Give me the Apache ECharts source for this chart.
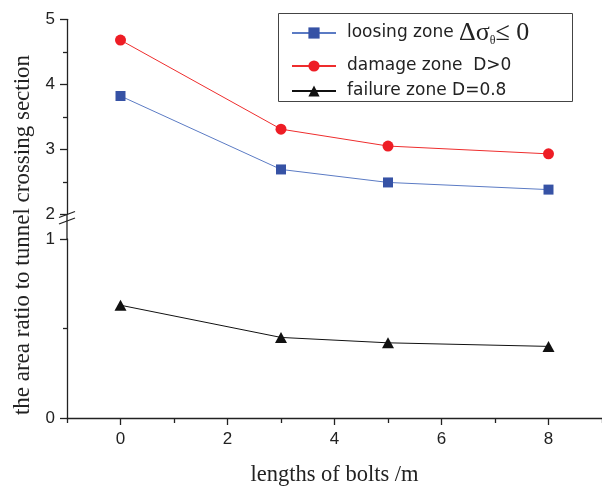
<!DOCTYPE html>
<html>
<head>
<meta charset="utf-8">
<script src="https://cdn.jsdelivr.net/npm/echarts@6/dist/echarts.min.js"></script>
<style>
  html, body { margin: 0; padding: 0; background: #fff; }
  #main { width: 602px; height: 488px; }
</style>
</head>
<body>
<div id="main"></div>
<script>
// data
var lengths = [0, 3, 5, 8];
var loosing = [3.82, 2.69, 2.49, 2.38];
var damage = [4.68, 3.31, 3.05, 2.93];
var failure = [0.63, 0.45, 0.42, 0.40];
var xLabels = [0, 2, 4, 6, 8];
var xMinor = [-1, 1, 3, 5, 7, 9];

function pairs(ys) {
    return lengths.map(function (x, i) { return [x, ys[i]]; });
}

var myChart = echarts.init(document.getElementById('main'));

var axisCol = '#222';
var tickFont = { color: '#222', fontFamily: 'Liberation Sans', fontSize: 17 };

var option = {
    animation: false,
    grid: [
        { left: 67, top: 19.3, width: 543, height: 195 },
        { left: 67, top: 239, width: 543, height: 179 }
    ],
    xAxis: [
        { type: 'value', gridIndex: 0, min: -1, max: 9, show: false },
        {
            type: 'value', gridIndex: 1, min: -1, max: 9, interval: 1, position: 'bottom',
            name: 'lengths of bolts /m', nameLocation: 'middle', nameGap: 46,
            nameTextStyle: { fontFamily: 'Liberation Serif', fontSize: 22.5, color: '#222' },
            axisLine: { onZero: false, lineStyle: { color: axisCol, width: 1.3 } },
            axisTick: { length: 7, customValues: xLabels, lineStyle: { color: axisCol, width: 1.3 } },
            axisLabel: Object.assign({ margin: 13, customValues: xLabels }, tickFont),
            splitLine: { show: false }
        },
        {
            // odd-metre minor ticks
            type: 'value', gridIndex: 1, min: -1, max: 9, interval: 1, position: 'bottom',
            axisLine: { show: false, onZero: false },
            axisTick: { length: 5, customValues: xMinor, lineStyle: { color: axisCol, width: 1.3 } },
            axisLabel: { show: false },
            splitLine: { show: false }
        }
    ],
    yAxis: [
        {
            type: 'value', gridIndex: 0, min: 2, max: 5, interval: 1, position: 'left',
            axisLine: { show: true, onZero: false, lineStyle: { color: axisCol, width: 1.3 } },
            axisTick: { show: true, length: 7, lineStyle: { color: axisCol, width: 1.3 } },
            minorTick: { show: true, splitNumber: 2, length: 4, lineStyle: { color: axisCol, width: 1.3 } },
            axisLabel: Object.assign({ margin: 12 }, tickFont),
            splitLine: { show: false }
        },
        {
            type: 'value', gridIndex: 1, min: 0, max: 1, interval: 1, position: 'left',
            axisLine: { show: true, onZero: false, lineStyle: { color: axisCol, width: 1.3 } },
            axisTick: { show: true, length: 7, lineStyle: { color: axisCol, width: 1.3 } },
            minorTick: { show: true, splitNumber: 2, length: 4, lineStyle: { color: axisCol, width: 1.3 } },
            axisLabel: Object.assign({ margin: 12 }, tickFont),
            splitLine: { show: false }
        }
    ],
    legend: [
        {
            data: ['loosing zone'], left: 291, top: 19, padding: 0,
            itemWidth: 44, itemHeight: 14,
            formatter: function (name) { return name + ' {m|Δσ}{s|θ}{m|≤ 0}'; },
            textStyle: {
                color: '#222', fontFamily: 'DejaVu Sans', fontSize: 17, lineHeight: 28, padding: [0, 0, 0, 6],
                rich: {
                    m: { fontFamily: 'Liberation Serif', fontSize: 26, lineHeight: 28, color: '#222' },
                    s: { fontFamily: 'Liberation Serif', fontSize: 12, lineHeight: 12, padding: [15, 0, 0, 0], color: '#222' }
                }
            }
        },
        {
            data: ['damage zone'], left: 291, top: 56, padding: 0,
            itemWidth: 44, itemHeight: 14,
            formatter: function (name) { return name + '  D>0'; },
            textStyle: { color: '#222', fontFamily: 'DejaVu Sans', fontSize: 17, lineHeight: 20, padding: [0, 0, 0, 6] }
        },
        {
            data: ['failure zone'], left: 291, top: 81, padding: 0,
            itemWidth: 44, itemHeight: 14,
            formatter: function (name) { return name + ' D=0.8'; },
            textStyle: { color: '#222', fontFamily: 'DejaVu Sans', fontSize: 17, lineHeight: 20, padding: [0, 0, 0, 6] }
        }
    ],
    graphic: [
        // legend frame
        { type: 'rect', shape: { x: 278.5, y: 13.5, width: 294, height: 88 },
          style: { fill: 'none', stroke: '#444', lineWidth: 1 } },
        // axis break
        { type: 'line', shape: { x1: 67, y1: 214, x2: 67, y2: 239 }, style: { stroke: axisCol, lineWidth: 1.3 } },
        { type: 'line', shape: { x1: 59, y1: 217.5, x2: 75, y2: 211.5 }, style: { stroke: axisCol, lineWidth: 1.3 } },
        { type: 'line', shape: { x1: 59, y1: 224, x2: 75, y2: 218 }, style: { stroke: axisCol, lineWidth: 1.3 } },
        // y axis title
        { type: 'text', x: 23, y: 235, rotation: Math.PI / 2,
          style: { text: 'the area ratio to tunnel crossing section', fontFamily: 'Liberation Serif', fontSize: 23,
                   fill: '#222', textAlign: 'center', textVerticalAlign: 'middle' } }
    ],
    series: [
        {
            name: 'loosing zone', type: 'line', xAxisIndex: 0, yAxisIndex: 0,
            data: pairs(loosing), symbol: 'rect', symbolSize: 10,
            itemStyle: { color: '#3652A5' }, lineStyle: { color: '#5B7BC4', width: 1 }
        },
        {
            name: 'damage zone', type: 'line', xAxisIndex: 0, yAxisIndex: 0,
            data: pairs(damage), symbol: 'circle', symbolSize: 11,
            itemStyle: { color: '#EE1D25' }, lineStyle: { color: '#EE2D2D', width: 1 }
        },
        {
            name: 'failure zone', type: 'line', xAxisIndex: 1, yAxisIndex: 1,
            data: pairs(failure), symbol: 'triangle', symbolSize: [12, 11],
            itemStyle: { color: '#111' }, lineStyle: { color: '#111', width: 1 }
        }
    ]
};

myChart.setOption(option);
</script>
</body>
</html>
